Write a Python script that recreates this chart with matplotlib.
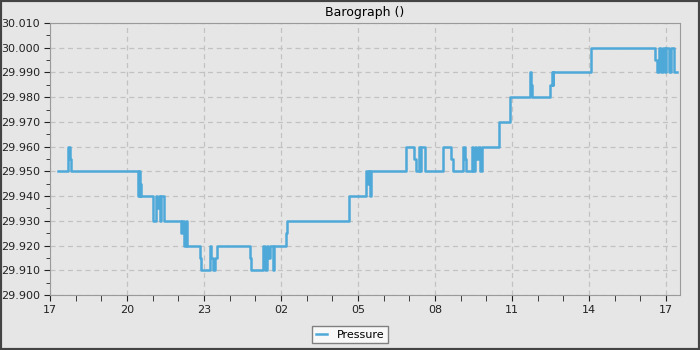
import matplotlib
matplotlib.use("Agg")
import matplotlib.pyplot as plt
from matplotlib.ticker import MultipleLocator, FuncFormatter
from matplotlib.patches import Rectangle

# hours after 17:00 on the first day, and pressure (inHg) from that moment on
hours = [0.31, 0.70, 0.76, 0.82,
         3.41, 3.45, 3.49, 3.52, 3.56,
         4.01, 4.11, 4.17, 4.23, 4.30, 4.34, 4.46,
         5.10, 5.16, 5.22, 5.28, 5.34,
         5.84, 5.88, 6.23, 6.29, 6.35, 6.43, 6.49,
         7.79, 7.83, 8.30, 8.36, 8.45, 8.49, 8.57, 8.69, 8.73,
         9.19, 9.23, 11.65,
         12.31, 12.37, 12.43, 12.47, 12.52,
         13.87, 14.18, 14.26, 14.37, 14.41, 14.45, 14.61,
         15.31, 15.62, 15.68, 16.09, 16.15, 16.19,
         16.42, 16.48, 16.56, 16.60, 16.67, 16.75, 16.83,
         17.49, 17.92, 18.70, 18.74, 18.78,
         19.48, 19.54, 19.58, 19.61, 21.08,
         23.57, 23.65, 23.72, 23.80, 23.89, 23.96, 24.00, 24.10, 24.18, 24.31,
         24.44]
pressure = [29.950, 29.960, 29.955, 29.950,
            29.940, 29.950, 29.940, 29.945, 29.940,
            29.930, 29.940, 29.935, 29.940, 29.930, 29.940, 29.930,
            29.925, 29.930, 29.920, 29.930, 29.920,
            29.915, 29.910, 29.920, 29.915, 29.910, 29.915, 29.920,
            29.915, 29.910, 29.920, 29.910, 29.920, 29.915, 29.920, 29.910, 29.920,
            29.925, 29.930, 29.940,
            29.950, 29.945, 29.950, 29.940, 29.950,
            29.960, 29.955, 29.950, 29.960, 29.950, 29.960, 29.950,
            29.960, 29.955, 29.950, 29.960, 29.955, 29.950,
            29.960, 29.950, 29.960, 29.955, 29.960, 29.950, 29.960,
            29.970, 29.980, 29.990, 29.985, 29.980,
            29.985, 29.990, 29.985, 29.990, 30.000,
            29.995, 29.990, 30.000, 29.990, 30.000, 29.990, 30.000, 29.990, 30.000, 29.990,
            29.990]

bg = "#e6e6e6"
fig = plt.figure(figsize=(7, 3.5), dpi=100, facecolor=bg)
ax = fig.add_axes([50 / 700, 55 / 350, 630 / 700, 272 / 350], facecolor=bg)

ax.step(hours, pressure, where="post", color="#4ea9d9", lw=1.8, label="Pressure")

ax.set_xlim(0, 24.54)
ax.set_ylim(29.900, 30.010)
ax.xaxis.set_major_locator(MultipleLocator(3))
ax.xaxis.set_minor_locator(MultipleLocator(1))
ax.xaxis.set_major_formatter(FuncFormatter(lambda v, p: "%02d" % ((17 + int(round(v))) % 24)))
ax.yaxis.set_major_locator(MultipleLocator(0.01))
ax.yaxis.set_minor_locator(MultipleLocator(0.005))
ax.yaxis.set_major_formatter(FuncFormatter(lambda v, p: "%.3f" % v))

ax.grid(True, which="major", ls=(0, (4, 3)), color="#c2c2c2", lw=0.9)
for s in ax.spines.values():
    s.set_color("#9a9a9a")
ax.tick_params(which="both", direction="out", colors="#222222", labelsize=8)
ax.tick_params(which="major", length=4, pad=3)
ax.tick_params(which="minor", length=3)
ax.tick_params(axis="x", which="both", length=4)

ax.set_title("Barograph ()", fontsize=9, pad=5)

leg = fig.legend(loc="lower center", bbox_to_anchor=(0.5, 0.003), fontsize=8,
                 fancybox=False, framealpha=1, facecolor="#f8f8f8", edgecolor="#808080",
                 handlelength=1.0, borderpad=0.35, handletextpad=0.9)
leg.get_frame().set_linewidth(1.0)

fig.add_artist(Rectangle((0, 0), 1, 1, transform=fig.transFigure, fill=False,
                         edgecolor="#444444", lw=3))

fig.savefig("out.png", dpi=100, facecolor=bg)
